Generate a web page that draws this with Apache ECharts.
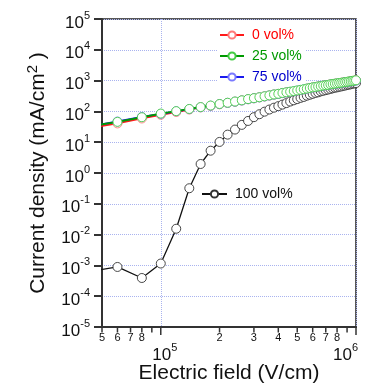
<!DOCTYPE html>
<html><head><meta charset="utf-8">
<script src="https://cdn.jsdelivr.net/npm/echarts@6/dist/echarts.min.js"></script>
<style>html,body{margin:0;padding:0;background:#fff}#c{width:367px;height:384px}</style>
</head><body><div id="c"></div>
<script>
// Electric field (V/cm)
const fieldE = [40000, 60000, 80000, 100000, 120000, 140000, 160000, 180000, 200000, 220000,
  240000, 260000, 280000, 300000, 320000, 340000, 360000, 380000, 400000, 420000,
  440000, 460000, 480000, 500000, 520000, 540000, 560000, 580000, 600000, 620000,
  640000, 660000, 680000, 700000, 720000, 740000, 760000, 780000, 800000, 820000,
  840000, 860000, 880000, 900000, 920000, 940000, 960000, 980000, 1000000];

// Current density (mA/cm^2)
const vol0 = [27, 40.7, 58.9, 77.6, 95.5, 115, 135, 151, 170, 189,
  207, 227, 248, 267, 286, 307, 329, 352, 370, 395,
  414, 434, 455, 476, 498, 522, 547, 572, 600, 614,
  643, 658, 689, 705, 721, 756, 773, 791, 810, 829,
  848, 868, 888, 909, 930, 952, 974, 997, 1020];
const vol25 = [30.2, 45.7, 64.6, 85.1, 102, 120, 138, 155, 174, 191,
  209, 229, 251, 269, 288, 309, 331, 355, 372, 398,
  417, 437, 457, 479, 501, 525, 550, 575, 603, 617,
  646, 661, 692, 708, 724, 759, 776, 794, 813, 832,
  851, 871, 891, 912, 933, 955, 977, 1000, 1023];
const vol75 = [29.5, 47.0, 66.1, 83.2, 101, 118, 136, 153, 172, 189,
  207, 226, 248, 266, 285, 306, 328, 351, 368, 393,
  412, 432, 452, 474, 496, 519, 544, 569, 596, 611,
  639, 654, 684, 700, 716, 750, 767, 785, 803, 822,
  840, 860, 880, 900, 920, 940, 960, 980, 1000];
const vol100 = [5.9e-4, 8.9e-4, 3.9e-4, 1.15e-3, 0.0155, 0.32, 1.96, 5.3, 10.2, 17.6,
  25.7, 36.5, 49, 65, 81, 98, 115, 132, 148, 166,
  186, 209, 229, 251, 275, 295, 324, 347, 372, 398,
  417, 447, 468, 490, 513, 537, 562, 589, 603, 631,
  646, 676, 692, 724, 741, 759, 794, 813, 832];

const seriesNames = ['0 vol%', '25 vol%', '75 vol%', '100 vol%'];

// x-axis tick marks and labels
const xTickValues = [50000, 60000, 70000, 80000, 90000, 100000, 200000, 300000, 400000,
  500000, 600000, 700000, 800000, 900000, 1000000];
const xTickLabels = ['5', '6', '7', '8', '', '5', '2', '3', '4', '5', '6', '7', '8', '', '6'];
const xTickMajor = [false, false, false, false, false, true, false, false, false, false, false, false, false, false, true];

const FONT = '"Liberation Sans", Arial, Helvetica, sans-serif';
const TXT = '#111';

function pair(vals) { return fieldE.map((e, i) => [e, vals[i]]); }

const chart = echarts.init(document.getElementById('c'), null, {renderer: 'canvas'});

function renderTicks(params, api) {
  const idx = params.dataIndex;
  const v = api.value(0);
  const p = api.coord([v, 1e-5]);
  const major = xTickMajor[idx];
  const len = major ? 8 : 5.5;
  const children = [{
    type: 'line',
    shape: {x1: p[0], y1: p[1], x2: p[0], y2: p[1] + len},
    style: {stroke: '#333', lineWidth: 1.5}
  }];
  const lab = xTickLabels[idx];
  if (lab) {
    if (major) {
      const last = idx === xTickValues.length - 1;
      children.push({
        type: 'text',
        x: last ? p[0] + 2 : p[0] + 4,
        y: p[1] + 24,
        style: {
          text: '{b|10}{s|' + lab + '}',
          align: last ? 'right' : 'center',
          verticalAlign: 'middle',
          rich: {
            b: {fontSize: 17, fontFamily: FONT, fill: TXT, lineHeight: 17, padding: [8, 0, 0, 0]},
            s: {fontSize: 11, fontFamily: FONT, fill: TXT, lineHeight: 11, padding: [0, 0, 7, 0]}
          }
        }
      });
    } else {
      children.push({
        type: 'text',
        x: p[0],
        y: p[1] + 11,
        style: {text: lab, fontSize: 11, fontFamily: FONT, fill: TXT, align: 'center', verticalAlign: 'middle'}
      });
    }
  }
  return {type: 'group', children: children};
}

function lineSeries(name, vals, lineColor, markColor, lw, z) {
  return {
    name: name, type: 'line', data: pair(vals), z: z,
    symbol: 'circle', symbolSize: 9, showAllSymbol: true, clip: true,
    lineStyle: {color: lineColor, width: lw},
    itemStyle: {color: '#fff', borderColor: markColor, borderWidth: 0.9},
    emphasis: {disabled: true}
  };
}

chart.setOption({
  animation: false,
  backgroundColor: '#fff',
  grid: {left: 102, right: 11, top: 19, bottom: 57, show: true, borderColor: '#222', borderWidth: 1.5,
    backgroundColor: 'transparent', outerBoundsMode: 'none', containLabel: false},
  legend: [{
    data: [
      {name: seriesNames[0], textStyle: {color: '#ff0000'}},
      {name: seriesNames[1], textStyle: {color: '#009900'}},
      {name: seriesNames[2], textStyle: {color: '#0000cc'}}
    ],
    orient: 'vertical', left: 217, top: 25, itemWidth: 24, itemHeight: 9, itemGap: 5,
    padding: [2, 4, 2, 2], backgroundColor: '#fff',
    textStyle: {fontSize: 14, fontFamily: FONT, lineHeight: 16, padding: [0, 0, 0, 3]},
    selectedMode: false
  }, {
    data: [{name: seriesNames[3], textStyle: {color: TXT}}],
    orient: 'vertical', left: 199, top: 184, itemWidth: 25, itemHeight: 9,
    padding: [2, 4, 2, 2],
    textStyle: {fontSize: 14, fontFamily: FONT, lineHeight: 16, padding: [0, 0, 0, 3]},
    selectedMode: false
  }],
  xAxis: {
    type: 'log', logBase: 10, min: 50000, max: 1000000,
    name: 'Electric field (V/cm)', nameLocation: 'middle', nameGap: 36,
    nameTextStyle: {fontSize: 21, fontFamily: FONT, color: TXT},
    axisLine: {show: true, lineStyle: {color: '#333', width: 2}},
    axisTick: {show: false},
    axisLabel: {show: false},
    splitLine: {show: true, lineStyle: {color: '#a9b3ef', type: 'dotted', width: 1}}
  },
  yAxis: {
    type: 'log', logBase: 10, min: 1e-5, max: 1e5, interval: 1,
    name: 'Current density (mA/cm{s|2} )', nameLocation: 'middle', nameGap: 50, nameRotate: 90,
    nameTextStyle: {fontSize: 21, fontFamily: FONT, color: TXT,
      rich: {s: {fontSize: 15, fontFamily: FONT, color: TXT, padding: [0, 0, 12, 0]}}},
    axisLine: {show: true, lineStyle: {color: '#333', width: 2}},
    axisTick: {show: true, inside: false, length: 8, lineStyle: {color: '#333', width: 2}},
    axisLabel: {
      margin: 12, color: TXT,
      formatter: function (v) {
        const e = Math.round(Math.log10(v));
        return '{b|10}{s|' + (e < 0 ? '-' + (-e) : e) + '}';
      },
      rich: {
        b: {fontSize: 17, fontFamily: FONT, color: TXT, lineHeight: 17, padding: [8, 0, 0, 0]},
        s: {fontSize: 11, fontFamily: FONT, color: TXT, lineHeight: 11, padding: [0, 0, 7, 0]}
      }
    },
    splitLine: {show: true, lineStyle: {color: '#a9b3ef', type: 'dotted', width: 1}}
  },
  series: [
    lineSeries(seriesNames[3], vol100, '#111', '#333', 1.3, 2),
    lineSeries(seriesNames[0], vol0, '#ff1a1a', '#ff7a7a', 1.8, 3),
    lineSeries(seriesNames[2], vol75, '#1a1aee', '#7a7aff', 1.8, 4),
    lineSeries(seriesNames[1], vol25, '#009a00', '#44cc44', 1.8, 5),
    {
      type: 'custom', name: 'xticks', silent: true, clip: false, z: 10,
      data: xTickValues.map(v => [v, 1e-5]),
      encode: {x: 0, y: 1},
      renderItem: renderTicks
    }
  ]
});
</script></body></html>
